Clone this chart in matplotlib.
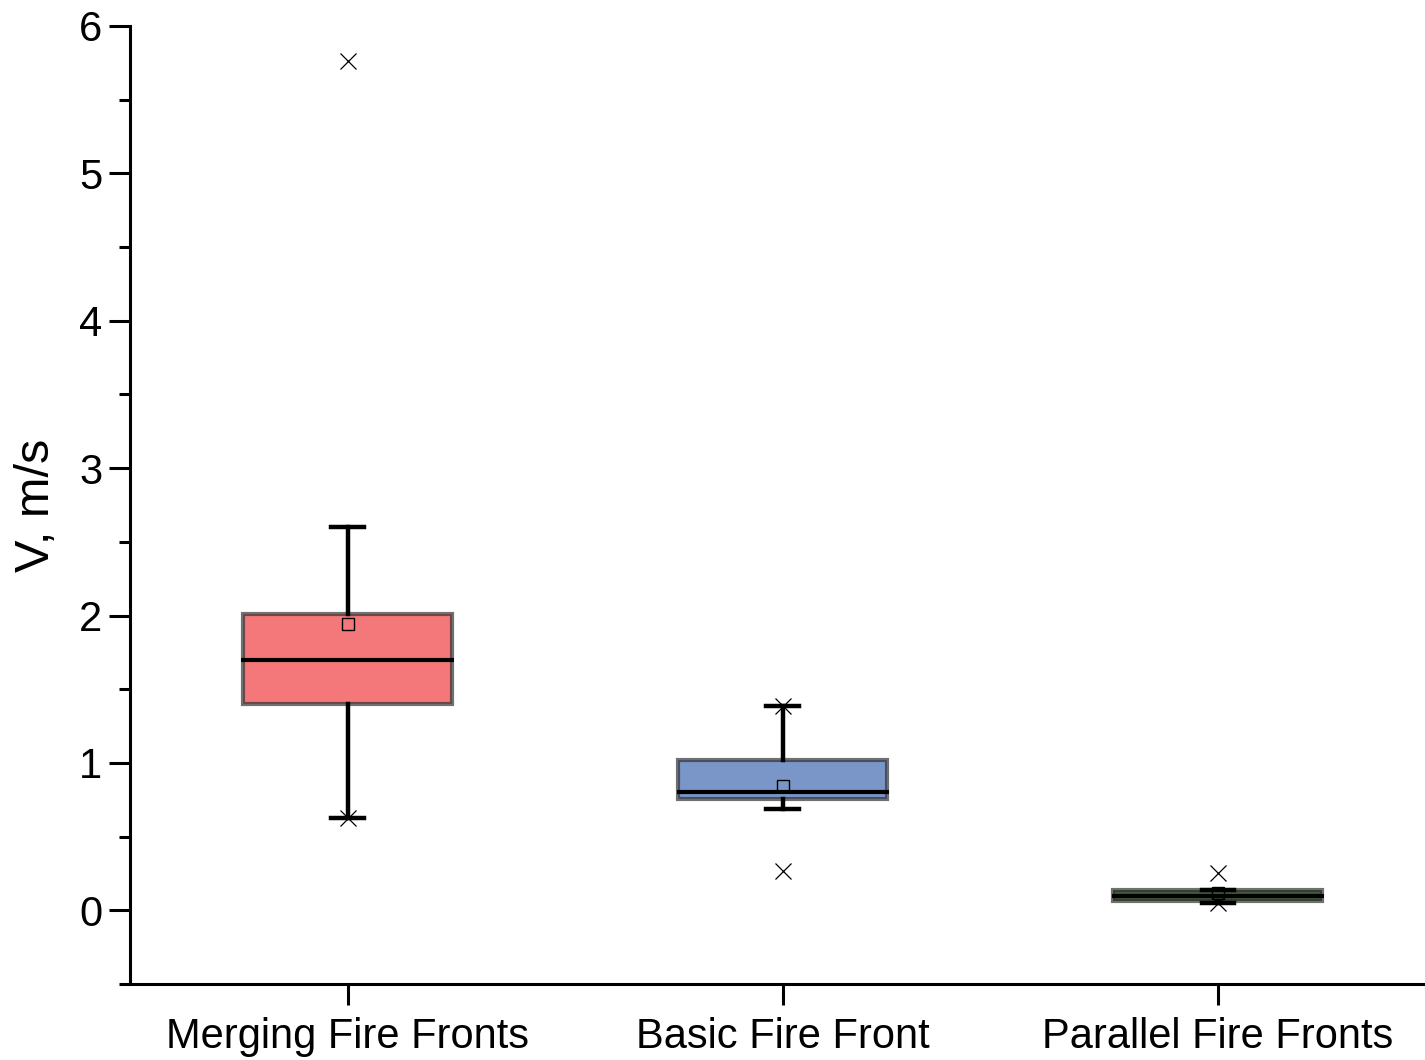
import matplotlib.pyplot as plt
from matplotlib.ticker import MultipleLocator

plt.rcParams["font.family"] = ["Liberation Sans", "DejaVu Sans"]

# ---- DATA ----
categories = ["Merging Fire Fronts", "Basic Fire Front", "Parallel Fire Fronts"]
q1 = [1.40, 0.755, 0.06]
q3 = [2.01, 1.02, 0.135]
medians = [1.70, 0.80, 0.095]
means = [1.94, 0.84, 0.12]
whisker_low = [0.625, 0.686, 0.05]
whisker_high = [2.60, 1.385, 0.14]
# min / max markers drawn as crosses
extremes = [[5.76, 0.625], [1.385, 0.265], [0.25, 0.05]]
fills = ["#F4777A", "#7A96C8", "#3F5A3A"]

# ---- FIGURE ----
fig = plt.figure(figsize=(14.25, 10.6), dpi=100)
ax = fig.add_axes([0.0912, 0.0717, 0.9088, 0.9038])

stats = []
for i, name in enumerate(categories):
    stats.append({
        "label": name,
        "q1": q1[i], "q3": q3[i], "med": medians[i], "mean": means[i],
        "whislo": whisker_low[i], "whishi": whisker_high[i],
        "fliers": extremes[i],
    })

pos = [1, 2, 3]
bp = ax.bxp(
    stats, positions=pos, widths=0.48, patch_artist=True, showmeans=True,
    boxprops=dict(edgecolor=(0.2, 0.2, 0.2, 0.7), linewidth=3),
    medianprops=dict(color="black", linewidth=3),
    whiskerprops=dict(color="black", linewidth=3.2),
    capprops=dict(color="black", linewidth=3.2),
    capwidths=0.075,
    meanprops=dict(marker="s", markerfacecolor="none", markeredgecolor="black",
                   markersize=8, markeredgewidth=1),
    flierprops=dict(marker="x", markeredgecolor="black", markersize=12,
                    markeredgewidth=0.9),
)
for patch, c in zip(bp["boxes"], fills):
    patch.set_facecolor(c)
for m in bp["medians"]:
    x0, x1 = m.get_xdata()
    m.set_xdata([x0 - 0.004, x1 + 0.004])
for m in bp["means"]:
    m.set_zorder(5)

# ---- AXES ----
ax.set_xlim(0.5, 3.476)
ax.set_ylim(-0.5, 6)
ax.set_xticks(pos)
ax.set_xticklabels(categories)
ax.yaxis.set_major_locator(MultipleLocator(1))
ax.yaxis.set_minor_locator(MultipleLocator(0.5))
ax.set_ylabel("V, m/s", fontsize=35, labelpad=14)

for side in ["top", "right"]:
    ax.spines[side].set_visible(False)
for side in ["left", "bottom"]:
    ax.spines[side].set_linewidth(2.2)
ax.tick_params(axis="both", which="major", direction="out", length=15, width=2.2,
               labelsize=30)
ax.tick_params(axis="y", which="major", pad=5)
ax.tick_params(axis="x", which="major", pad=9)
ax.tick_params(axis="y", which="minor", direction="out", length=8, width=2.2)
ax.tick_params(axis="x", which="minor", bottom=False)

fig.savefig("out.png", dpi=100)
